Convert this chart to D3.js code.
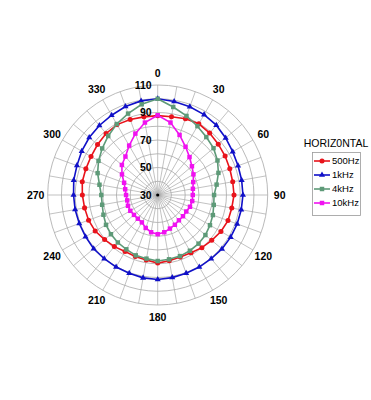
<!DOCTYPE html>
<html>
<head>
<meta charset="utf-8">
<script src="https://cdn.jsdelivr.net/npm/d3@7"></script>
<style>
  body { margin: 0; background: #fff; }
  text { font-family: "Liberation Sans", Arial, sans-serif; }
</style>
</head>
<body>
<div id="polar"></div>
<script>
// angles (deg) where each series was measured
const angles = [0, 10, 20, 30, 40, 50, 60, 70, 80, 90, 100, 110, 120, 130, 140, 150, 160, 170,
                180, 190, 200, 210, 220, 230, 240, 250, 260, 270, 280, 290, 300, 310, 320, 330, 340, 350];

const hz500 = [87.7, 87.8, 89, 89.8, 88.8, 87.5, 86.6, 85.8, 85.4, 85.5, 84.7, 84.4, 83.1, 81.3, 80, 78.5, 78, 78.5,
               79.5, 78, 77.6, 77.5, 79, 80.4, 82.5, 83.5, 84, 84.8, 85.7, 85.6, 86, 87.1, 88.4, 89.1, 88.5, 87.7];
const hz1k = [100, 99, 98.3, 97.5, 96.3, 94.5, 93, 92.2, 92, 92, 91.7, 91.5, 91.3, 91, 90.5, 90.5, 90.5, 91,
              91.5, 91.2, 90.5, 90.5, 90.5, 90.8, 90.6, 90.7, 91, 91.2, 92, 92.5, 93.8, 95, 96, 97, 98.5, 99.5];
const hz4k = [100, 95, 91.2, 87.8, 85, 83, 80.2, 77, 73.5, 71, 71.4, 72.7, 73.9, 75.3, 76.2, 76.8, 77.3, 77.5,
              78, 77, 76.7, 75.6, 75.1, 74.4, 73.4, 72, 71, 71, 73, 76.5, 79.7, 82.7, 86, 89.6, 93, 97];
const hz10k = [88, 83.5, 76.5, 70.5, 66, 62.5, 60, 57.5, 56, 55.5, 55.5, 55, 54, 54, 54, 55, 56, 57.5,
               58.5, 57.5, 55.5, 53, 52.5, 52.5, 53, 53, 52.5, 53, 54, 56, 60, 64, 66.5, 71.5, 77.5, 83.5];

const seriesNames = ["500Hz", "1kHz", "4kHz", "10kHz"];
const ringTicks = [40, 50, 60, 70, 80, 90, 100, 110];
const ringLabels = [30, 50, 70, 90, 110];
const angleLabels = [0, 30, 60, 90, 120, 150, 180, 210, 240, 270, 300, 330];

const W = 371, H = 400;
const cx = 157.7, cy = 195, R = 110;

const svg = d3.select("#polar").append("svg")
  .attr("width", W).attr("height", H);

const r = d3.scaleLinear().domain([30, 110]).range([0, R]);
const rad = d => d * Math.PI / 180;

const g = svg.append("g").attr("transform", `translate(${cx},${cy})`);

// ---------- grid ----------
g.selectAll(".spoke").data(angles).enter().append("line")
  .attr("x1", 0).attr("y1", 0)
  .attr("x2", d => R * Math.sin(rad(d)))
  .attr("y2", d => -R * Math.cos(rad(d)))
  .attr("stroke", "#a8a8a8").attr("stroke-width", 0.7);

g.selectAll(".ring").data(ringTicks).enter().append("circle")
  .attr("r", d => r(d))
  .attr("fill", "none")
  .attr("stroke", "#a8a8a8").attr("stroke-width", 0.8);

g.append("circle").attr("r", 1.6).attr("fill", "#000");

// ---------- series ----------
const series = [
  {name: seriesNames[0], values: hz500, color: "#e8131b", sym: d3.symbolCircle, size: 20},
  {name: seriesNames[1], values: hz1k, color: "#1010c8", sym: d3.symbolTriangle, size: 16},
  {name: seriesNames[2], values: hz4k, color: "#5e9a78", sym: d3.symbolSquare, size: 20},
  {name: seriesNames[3], values: hz10k, color: "#f012f0", sym: d3.symbolSquare, size: 20}
];

const line = d3.lineRadial()
  .angle(d => rad(d[0]))
  .radius(d => r(d[1]))
  .curve(d3.curveLinearClosed);

series.forEach(function(s) {
  const pts = angles.map((a, i) => [a, s.values[i]]);
  g.append("path")
    .datum(pts)
    .attr("d", line)
    .attr("fill", "none")
    .attr("stroke", s.color)
    .attr("stroke-width", 1.6);
  g.selectAll(null).data(pts).enter().append("path")
    .attr("d", d3.symbol().type(s.sym).size(s.size))
    .attr("transform", d => `translate(${r(d[1]) * Math.sin(rad(d[0]))},${-r(d[1]) * Math.cos(rad(d[0]))})`)
    .attr("fill", s.color);
});

// ---------- labels ----------
g.selectAll(".rlab").data(ringLabels).enter().append("text")
  .attr("x", -6)
  .attr("y", d => -r(d))
  .attr("dy", "0.35em")
  .attr("text-anchor", "end")
  .style("font-size", "10.5px").style("font-weight", "bold")
  .text(d => d);

g.selectAll(".alab").data(angleLabels).enter().append("text")
  .attr("x", d => 122 * Math.sin(rad(d)))
  .attr("y", d => -122 * Math.cos(rad(d)))
  .attr("dy", "0.35em")
  .attr("text-anchor", "middle")
  .style("font-size", "10.5px").style("font-weight", "bold")
  .text(d => d);

// ---------- legend ----------
svg.append("text")
  .attr("x", 336).attr("y", 143).attr("dy", "0.35em")
  .attr("text-anchor", "middle")
  .style("font-size", "10.5px")
  .text("HORIZ0NTAL");

svg.append("rect")
  .attr("x", 312.5).attr("y", 152.5).attr("width", 48).attr("height", 63)
  .attr("fill", "#fff").attr("stroke", "#999").attr("stroke-width", 0.8);

const leg = svg.selectAll(".leg").data(series).enter().append("g")
  .attr("transform", (d, i) => `translate(314,${161 + i * 14})`);
leg.append("line").attr("x1", 0).attr("x2", 16)
  .attr("stroke", d => d.color).attr("stroke-width", 1.6);
leg.append("path")
  .attr("transform", "translate(8,0)")
  .attr("d", d => d3.symbol().type(d.sym).size(d.size)())
  .attr("fill", d => d.color);
leg.append("text")
  .attr("x", 18).attr("dy", "0.35em")
  .style("font-size", "9.5px")
  .text(d => d.name);
</script>
</body>
</html>
